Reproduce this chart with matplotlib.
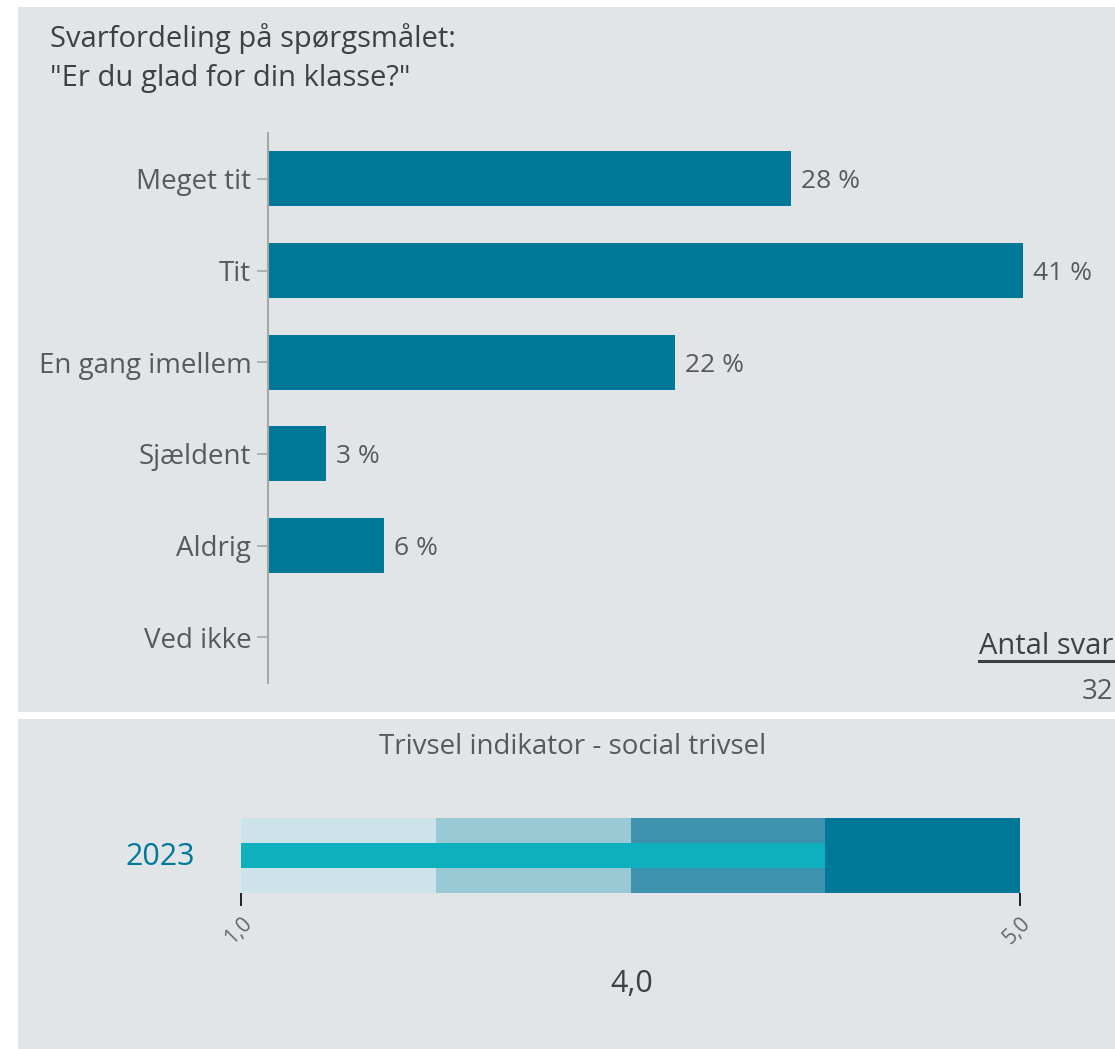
import numpy as np
import matplotlib
matplotlib.use('Agg')
import matplotlib.pyplot as plt
from matplotlib.patches import Rectangle

plt.rcParams['font.family'] = ['Open Sans', 'DejaVu Sans']

# data
categories = ["Meget tit", "Tit", "En gang imellem", "Sjældent", "Aldrig", "Ved ikke"]
counts = [9, 13, 7, 1, 2, 0]
total_answers = 32
pct_labels = ["28 %", "41 %", "22 %", "3 %", "6 %", ""]

year_label = "2023"
indicator_value = 4.0
band_edges = [1.0, 2.0, 3.0, 4.0, 5.0]
band_colors = ["#cce3ea", "#99c9d5", "#3d93ad", "#007898"]

W, H = 1115, 1049
BG = "#e1e5e8"
TXT = "#595959"
BAR = "#007898"

fig = plt.figure(figsize=(W / 100, H / 100), dpi=100)
fig.patch.set_facecolor("white")


def box(x0, y0, x1, y1):
    # pixel box (top-left origin) -> figure fraction rect
    return [x0 / W, 1 - y1 / H, (x1 - x0) / W, (y1 - y0) / H]


# panel backgrounds
for (x0, y0, x1, y1) in [(18, 7, 1115, 712), (18, 719, 1115, 1049)]:
    r = box(x0, y0, x1, y1)
    fig.patches.append(Rectangle((r[0], r[1]), r[2], r[3], transform=fig.transFigure,
                                 facecolor=BG, edgecolor="none", zorder=-10))

# ---- top: bar chart ----
pct = np.array(counts) / total_answers * 100
px_per_pct = 523 / pct[0]
ax = fig.add_axes(box(268, 133, 1100, 683))
ax.set_facecolor("none")
y = np.arange(len(categories))
ax.barh(y, pct, height=0.6, color=BAR)
for yi, v, lab in zip(y, pct, pct_labels):
    if lab:
        ax.text(v + 10 / px_per_pct, yi, lab, va="center_baseline", ha="left", fontsize=19,
                color=TXT)
ax.set_ylim(len(categories) - 0.5, -0.5)
ax.set_xlim(0, 832 / px_per_pct)
ax.set_yticks(y)
ax.set_yticklabels(categories, fontsize=20, color=TXT, va="center_baseline")
ax.tick_params(axis="y", length=8, width=1.2, color="#a6a6a6", pad=4)
ax.set_xticks([])
for s in ["top", "right", "bottom"]:
    ax.spines[s].set_visible(False)
ax.spines["left"].set_color("#a6a6a6")
ax.spines["left"].set_linewidth(1.5)

fig.text(50 / W, 1 - 58 / H, "Svarfordeling på spørgsmålet:\n\"Er du glad for din klasse?\"",
         ha="left", va="center", fontsize=21, color="#404040", linespacing=1.45)
fig.text(1113 / W, 1 - 646 / H, "Antal svar", ha="right", va="center", fontsize=21,
         color="#404040")
fig.add_artist(plt.Line2D([979 / W, 1113 / W], [1 - 661 / H] * 2, color="#404040", lw=2.2))
fig.text(1113 / W, 1 - 692 / H, str(total_answers), ha="right", va="center", fontsize=20,
         color=TXT)

# ---- bottom: bullet indicator ----
fig.text(573 / W, 1 - 747 / H, "Trivsel indikator - social trivsel", ha="center", va="center",
         fontsize=20, color=TXT)
bx = fig.add_axes(box(241, 818, 1020, 893))
bx.set_facecolor("none")
for lo, hi, c in zip(band_edges[:-1], band_edges[1:], band_colors):
    bx.barh(0.5, hi - lo, left=lo, height=1.0, color=c)
bx.barh(0.5, indicator_value - band_edges[0], left=band_edges[0], height=1 / 3, color="#0db0bc")
bx.set_xlim(band_edges[0], band_edges[-1])
bx.set_ylim(0, 1)
bx.set_yticks([])
bx.set_xticks([band_edges[0], band_edges[-1]])
bx.set_xticklabels(["1,0", "5,0"], rotation=45, ha="right", rotation_mode="anchor",
                   fontsize=15, color="#666666")
bx.tick_params(axis="x", length=9, width=1.2, color="black", pad=5)
for s in bx.spines.values():
    s.set_visible(False)

fig.text(160 / W, 1 - 857 / H, year_label, ha="center", va="center", fontsize=22, color=BAR)
fig.text(632 / W, 1 - 984 / H, f"{indicator_value:.1f}".replace(".", ","), ha="center",
         va="center", fontsize=22, color="#404040")

fig.savefig("out.png", dpi=100)
